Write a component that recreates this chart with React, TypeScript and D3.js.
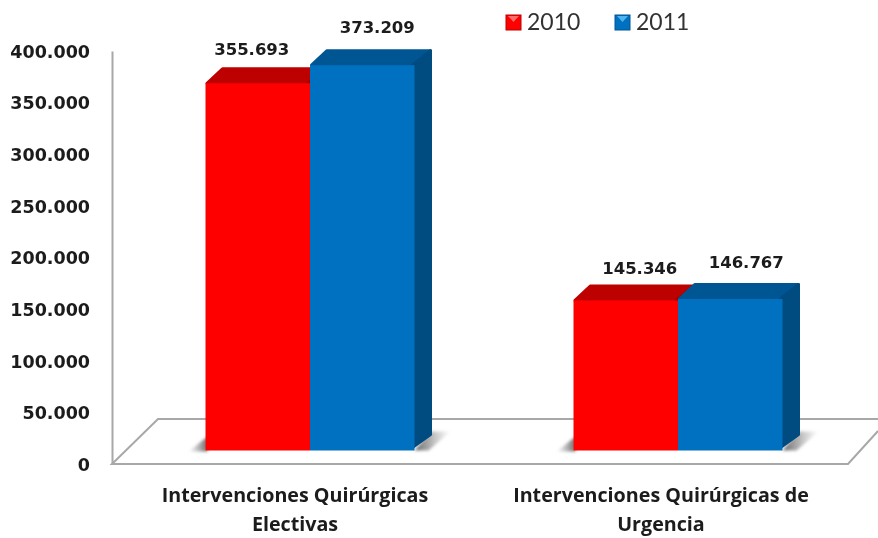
import React, { useEffect, useRef } from 'react'
import * as d3 from 'd3'

const categories = [
  ['Intervenciones Quirúrgicas', 'Electivas'],
  ['Intervenciones Quirúrgicas de', 'Urgencia'],
]
const years = ['2010', '2011']
const values2010 = [355693, 145346]
const values2011 = [373209, 146767]
const axisTicks = [0, 50000, 100000, 150000, 200000, 250000, 300000, 350000, 400000]

const width = 878
const height = 538
const depthX = 16
const depthY = 16
const floorLift = 13.5
const barsWidth = 209

// hand placed data labels in the original, nudged from the bar's top centre
const labelNudge2010 = [[-6, -34], [14, -32]]
const labelNudge2011 = [[15, -38], [16, -37]]

const colors = {
  2010: { front: '#ff0000', top: '#bd0000', side: '#a00000', light: '#ff6a6a' },
  2011: { front: '#0070c0', top: '#005493', side: '#004b80', light: '#4db4f0' },
}

const numFormat = d3.formatLocale({ decimal: ',', thousands: '.', grouping: [3], currency: ['', ''] }).format(',')

const y = d3.scaleLinear().domain([0, 400000]).range([464, 51])
const x0 = d3.scaleBand().domain(['0', '1']).range([126, 862])
const x1 = d3.scaleBand().domain(years).range([0, barsWidth])

const grey = '#a8a8a8'
const labelFont = "'Open Sans', sans-serif"

export default function App() {
  const axisRef = useRef<SVGGElement>(null)

  useEffect(() => {
    const axis = d3.axisLeft(y).tickValues(axisTicks).tickSize(0).tickPadding(22).tickFormat(d => numFormat(d as number))
    const g = d3.select(axisRef.current).attr('transform', 'translate(112,0)').call(axis as any)
    g.select('.domain').attr('stroke', grey).attr('stroke-width', 2)
    g.selectAll('text')
      .attr('font-family', "'DejaVu Sans', sans-serif")
      .attr('font-weight', 700)
      .attr('font-size', 17.5)
      .attr('fill', '#1a1a1a')
      .attr('dy', '0.36em')
  }, [])

  const series = [
    { year: '2010', vals: values2010, nudge: labelNudge2010 },
    { year: '2011', vals: values2011, nudge: labelNudge2011 },
  ]

  const groupLeft = (i: number) => x0(String(i))! + (x0.bandwidth() - barsWidth) / 2
  const base = y(0) - floorLift

  return (
    <svg width={width} height={height} style={{ position: 'absolute', left: 0, top: 0, background: '#fff' }}>
      <defs>
        <filter id="soft" x="-5%" y="-5%" width="110%" height="110%">
          <feGaussianBlur stdDeviation="0.6" />
        </filter>
        <filter id="softer" x="-30%" y="-30%" width="160%" height="160%">
          <feGaussianBlur stdDeviation="1.4" />
        </filter>
        <linearGradient id="shadowR" x1="0" x2="1" y1="0" y2="0">
          <stop offset="0" stopColor="#666" />
          <stop offset="1" stopColor="#888" stopOpacity="0" />
        </linearGradient>
        <linearGradient id="shadowL" x1="1" x2="0" y1="0" y2="0">
          <stop offset="0" stopColor="#666" />
          <stop offset="1" stopColor="#888" stopOpacity="0" />
        </linearGradient>
      </defs>
      <g filter="url(#soft)">
        {/* floor */}
        <path
          d={`M${width},${y(0) - 45}H158L112,${y(0)}H848L${width},${y(0) - 33}`}
          fill="none"
          stroke={grey}
          strokeWidth={2}
        />
        <g ref={axisRef} />

        {/* shadows on the floor */}
        {categories.map((_, i) => {
          const left = groupLeft(i)
          const right = left + barsWidth
          return (
            <g key={i} filter="url(#softer)">
              <path d={`M${left + 2},${base + 1}H${left - 17}L${left + 2},${base - 14}Z`} fill="url(#shadowL)" />
              <path d={`M${right},${base}L${right + depthX},${base - 19}H${right + 36}L${right + 14},${base}Z`} fill="url(#shadowR)" />
            </g>
          )
        })}

        {/* bars */}
        {series.map(s => {
          const c = colors[s.year as unknown as keyof typeof colors]
          return (
            <g key={s.year}>
              {s.vals.map((v, i) => {
                const bx = groupLeft(i) + x1(s.year)!
                const bw = x1.bandwidth()
                const top = y(v) - floorLift
                return (
                  <g key={i} strokeLinejoin="round" strokeWidth={3}>
                    <path
                      d={`M${bx + 1.5},${top}L${bx + depthX + 1},${top - depthY + 1.5}H${bx + bw + depthX}L${bx + bw},${top}Z`}
                      fill={c.top}
                      stroke={c.top}
                    />
                    <path
                      d={`M${bx + bw - 2},${top}L${bx + bw + depthX},${top - depthY + 1.5}V${base - depthX}L${bx + bw - 2},${base - 3}Z`}
                      fill={c.side}
                      stroke={c.side}
                    />
                    <rect x={bx} y={top} width={bw} height={base - top} fill={c.front} />
                  </g>
                )
              })}
            </g>
          )
        })}

        {/* value labels */}
        {series.map(s =>
          s.vals.map((v, i) => (
            <text
              key={s.year + i}
              x={groupLeft(i) + x1(s.year)! + x1.bandwidth() / 2 + s.nudge[i][0]}
              y={y(v) - floorLift + s.nudge[i][1]}
              dy="0.35em"
              textAnchor="middle"
              fontFamily="'DejaVu Sans', sans-serif"
              fontWeight={700}
              fontSize={16.5}
              fill="#1a1a1a"
            >
              {numFormat(v)}
            </text>
          ))
        )}

        {/* category labels */}
        {categories.map((lines, i) => (
          <text
            key={i}
            y={502}
            textAnchor="middle"
            fontFamily={labelFont}
            fontWeight={700}
            fontSize={19.7}
            fill="#1a1a1a"
          >
            {lines.map((l, j) => (
              <tspan key={j} x={x0(String(i))! + x0.bandwidth() / 2 - 15 - i * 2} dy={j === 0 ? 0 : 29}>
                {l}
              </tspan>
            ))}
          </text>
        ))}

        {/* legend */}
        {years.map((yr, i) => {
          const c = colors[yr as unknown as keyof typeof colors]
          const lx = 506 + i * 109
          return (
            <g key={yr}>
              <rect x={lx} y={15} width={15} height={15} fill={c.front} stroke={c.top} strokeWidth={1} />
              <path d={`M${lx + 2},${16}H${lx + 13}L${lx + 7.5},${22}Z`} fill={c.light} />
              <text x={lx + 21} y={22} dy="0.36em" fontFamily="Lato, sans-serif" fontSize={23} fill="#333">
                {yr}
              </text>
            </g>
          )
        })}
      </g>
    </svg>
  )
}
